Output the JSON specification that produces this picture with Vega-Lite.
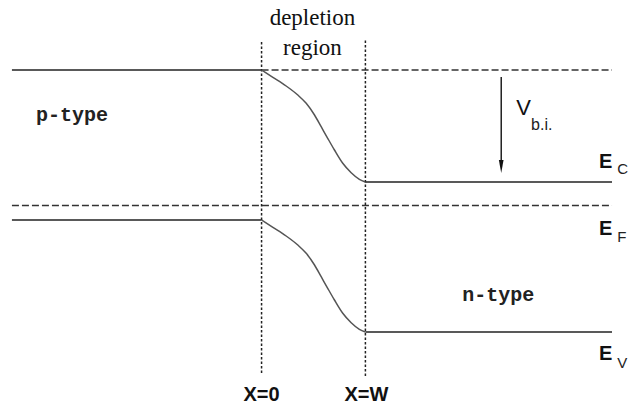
{
  "$schema": "https://vega.github.io/schema/vega-lite/v6.json",
  "width": 629,
  "height": 407,
  "autosize": {"type": "fit", "contains": "padding"},
  "padding": 0,
  "background": "white",
  "config": {"view": {"stroke": null}},
  "datasets": {
    "bands": [
      {"band": "Ec", "region": "p", "x": -2.404, "y": 3.37},
      {"band": "Ec", "region": "p", "x": 0, "y": 3.37},
      {"band": "Ec", "region": "depletion", "x": 0, "y": 3.37},
      {"band": "Ec", "region": "depletion", "x": 0.109, "y": 3.297},
      {"band": "Ec", "region": "depletion", "x": 0.237, "y": 3.21},
      {"band": "Ec", "region": "depletion", "x": 0.349, "y": 3.12},
      {"band": "Ec", "region": "depletion", "x": 0.43, "y": 3.037},
      {"band": "Ec", "region": "depletion", "x": 0.51, "y": 2.92},
      {"band": "Ec", "region": "depletion", "x": 0.574, "y": 2.803},
      {"band": "Ec", "region": "depletion", "x": 0.637, "y": 2.687},
      {"band": "Ec", "region": "depletion", "x": 0.702, "y": 2.57},
      {"band": "Ec", "region": "depletion", "x": 0.782, "y": 2.437},
      {"band": "Ec", "region": "depletion", "x": 0.863, "y": 2.343},
      {"band": "Ec", "region": "depletion", "x": 0.942, "y": 2.277},
      {"band": "Ec", "region": "depletion", "x": 1.0, "y": 2.25},
      {"band": "Ec", "region": "n", "x": 1.0, "y": 2.25},
      {"band": "Ec", "region": "n", "x": 3.375, "y": 2.25},
      {"band": "Ev", "region": "p", "x": -2.404, "y": 1.87},
      {"band": "Ev", "region": "p", "x": 0, "y": 1.87},
      {"band": "Ev", "region": "depletion", "x": 0, "y": 1.87},
      {"band": "Ev", "region": "depletion", "x": 0.109, "y": 1.797},
      {"band": "Ev", "region": "depletion", "x": 0.237, "y": 1.71},
      {"band": "Ev", "region": "depletion", "x": 0.349, "y": 1.62},
      {"band": "Ev", "region": "depletion", "x": 0.43, "y": 1.537},
      {"band": "Ev", "region": "depletion", "x": 0.51, "y": 1.42},
      {"band": "Ev", "region": "depletion", "x": 0.574, "y": 1.303},
      {"band": "Ev", "region": "depletion", "x": 0.637, "y": 1.187},
      {"band": "Ev", "region": "depletion", "x": 0.702, "y": 1.07},
      {"band": "Ev", "region": "depletion", "x": 0.782, "y": 0.937},
      {"band": "Ev", "region": "depletion", "x": 0.863, "y": 0.843},
      {"band": "Ev", "region": "depletion", "x": 0.942, "y": 0.777},
      {"band": "Ev", "region": "depletion", "x": 1.0, "y": 0.75},
      {"band": "Ev", "region": "n", "x": 1.0, "y": 0.75},
      {"band": "Ev", "region": "n", "x": 3.375, "y": 0.75}
    ],
    "levels": [
      {"level": "Ec (p-side)", "x": 0, "x2": 3.375, "y": 3.37},
      {"level": "EF", "x": -2.404, "x2": 3.375, "y": 2.015}
    ],
    "edges": [
      {"edge": "X=0", "x": 0, "y": 0.34, "y2": 3.67},
      {"edge": "X=W", "x": 1, "y": 0.31, "y2": 3.68}
    ],
    "vbi": [
      {"x": 2.308, "y": 3.3, "y2": 2.45, "tip": 2.405}
    ],
    "serifLabels": [
      {"text": "depletion", "x": 0.49, "y": 3.82},
      {"text": "region", "x": 0.49, "y": 3.52}
    ],
    "monoLabels": [
      {"text": "p-type", "x": -2.173, "y": 2.86},
      {"text": "n-type", "x": 1.933, "y": 1.06}
    ],
    "edgeLabels": [
      {"text": "X=0", "x": 0, "y": 0.06},
      {"text": "X=W", "x": 1.01, "y": 0.06}
    ],
    "energyLabels": [
      {"text": "E", "x": 3.25, "y": 2.39},
      {"text": "E", "x": 3.25, "y": 1.72},
      {"text": "E", "x": 3.25, "y": 0.47}
    ],
    "energySubs": [
      {"text": "C", "x": 3.425, "y": 2.33},
      {"text": "F", "x": 3.425, "y": 1.65},
      {"text": "V", "x": 3.425, "y": 0.39}
    ],
    "vLabel": [
      {"text": "V", "x": 2.452, "y": 2.92}
    ],
    "vSub": [
      {"text": "b.i.", "x": 2.596, "y": 2.77}
    ]
  },
  "layer": [
    {
      "data": {"name": "edges"},
      "mark": {"type": "rule", "stroke": "#222", "strokeWidth": 1.5, "strokeDash": [2.5, 2]},
      "encoding": {
        "x": {"field": "x", "type": "quantitative", "scale": {"domain": [-2.519, 3.529], "nice": false, "zero": false}, "axis": null},
        "y": {"field": "y", "type": "quantitative", "scale": {"domain": [0, 4.07], "nice": false, "zero": false}, "axis": null},
        "y2": {"field": "y2"}
      }
    },
    {
      "data": {"name": "levels"},
      "mark": {"type": "rule", "stroke": "#333", "strokeWidth": 1.4, "strokeDash": [7, 3]},
      "encoding": {
        "x": {"field": "x", "type": "quantitative"},
        "x2": {"field": "x2"},
        "y": {"field": "y", "type": "quantitative"}
      }
    },
    {
      "data": {"name": "bands"},
      "mark": {"type": "line", "interpolate": "monotone", "strokeWidth": 1.5},
      "encoding": {
        "x": {"field": "x", "type": "quantitative"},
        "y": {"field": "y", "type": "quantitative"},
        "detail": [{"field": "band"}, {"field": "region"}],
        "color": {"field": "region", "type": "nominal", "scale": {"domain": ["p", "depletion", "n"], "range": ["#222222", "#555555", "#222222"]}, "legend": null}
      }
    },
    {
      "data": {"name": "vbi"},
      "mark": {"type": "rule", "stroke": "#111", "strokeWidth": 1.4},
      "encoding": {
        "x": {"field": "x", "type": "quantitative"},
        "y": {"field": "y", "type": "quantitative"},
        "y2": {"field": "y2"}
      }
    },
    {
      "data": {"name": "vbi"},
      "mark": {"type": "point", "shape": "M-0.36,-1L0.36,-1L0,1Z", "filled": true, "fill": "#111", "opacity": 1, "size": 169, "strokeWidth": 0},
      "encoding": {
        "x": {"field": "x", "type": "quantitative"},
        "y": {"field": "tip", "type": "quantitative"}
      }
    },
    {
      "data": {"name": "serifLabels"},
      "mark": {"type": "text", "font": "Liberation Serif", "fontSize": 23, "align": "center", "baseline": "alphabetic", "fill": "#111"},
      "encoding": {
        "x": {"field": "x", "type": "quantitative"},
        "y": {"field": "y", "type": "quantitative"},
        "text": {"field": "text"}
      }
    },
    {
      "data": {"name": "monoLabels"},
      "mark": {"type": "text", "font": "Liberation Mono", "fontSize": 20, "fontWeight": "bold", "align": "left", "baseline": "alphabetic", "fill": "#222"},
      "encoding": {
        "x": {"field": "x", "type": "quantitative"},
        "y": {"field": "y", "type": "quantitative"},
        "text": {"field": "text"}
      }
    },
    {
      "data": {"name": "edgeLabels"},
      "mark": {"type": "text", "font": "Liberation Sans", "fontSize": 20, "fontWeight": "bold", "align": "center", "baseline": "alphabetic", "fill": "#111"},
      "encoding": {
        "x": {"field": "x", "type": "quantitative"},
        "y": {"field": "y", "type": "quantitative"},
        "text": {"field": "text"}
      }
    },
    {
      "data": {"name": "energyLabels"},
      "mark": {"type": "text", "font": "Liberation Sans", "fontSize": 20, "fontWeight": "bold", "align": "left", "baseline": "alphabetic", "fill": "#111"},
      "encoding": {
        "x": {"field": "x", "type": "quantitative"},
        "y": {"field": "y", "type": "quantitative"},
        "text": {"field": "text"}
      }
    },
    {
      "data": {"name": "energySubs"},
      "mark": {"type": "text", "font": "Liberation Sans", "fontSize": 15, "align": "left", "baseline": "alphabetic", "fill": "#222"},
      "encoding": {
        "x": {"field": "x", "type": "quantitative"},
        "y": {"field": "y", "type": "quantitative"},
        "text": {"field": "text"}
      }
    },
    {
      "data": {"name": "vLabel"},
      "mark": {"type": "text", "font": "Liberation Sans", "fontSize": 22, "align": "left", "baseline": "alphabetic", "fill": "#111"},
      "encoding": {
        "x": {"field": "x", "type": "quantitative"},
        "y": {"field": "y", "type": "quantitative"},
        "text": {"field": "text"}
      }
    },
    {
      "data": {"name": "vSub"},
      "mark": {"type": "text", "font": "Liberation Sans", "fontSize": 16, "align": "left", "baseline": "alphabetic", "fill": "#222"},
      "encoding": {
        "x": {"field": "x", "type": "quantitative"},
        "y": {"field": "y", "type": "quantitative"},
        "text": {"field": "text"}
      }
    }
  ]
}
